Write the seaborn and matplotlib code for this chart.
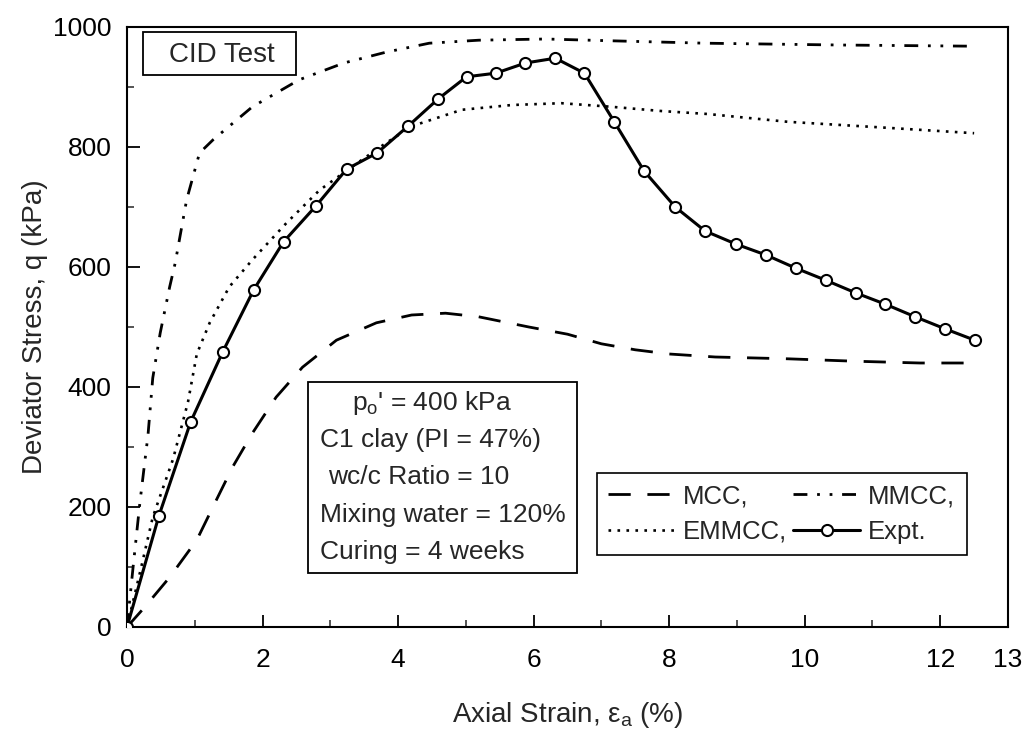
import matplotlib
matplotlib.use("Agg")
import matplotlib.pyplot as plt
import seaborn as sns
from matplotlib.patches import Rectangle
from matplotlib.ticker import MultipleLocator, FixedLocator

# Experimental results (open circles)
expt_strain = [0, 0.47, 0.94, 1.41, 1.87, 2.31, 2.79, 3.24, 3.69, 4.15, 4.59, 5.01,
               5.44, 5.88, 6.32, 6.75, 7.19, 7.63, 8.09, 8.53, 8.99, 9.43, 9.87,
               10.31, 10.75, 11.19, 11.63, 12.07, 12.51]
expt_q = [0, 185, 342, 458, 562, 642, 702, 763, 790, 835, 880, 917,
          923, 940, 948, 923, 842, 760, 700, 660, 638, 620, 598,
          578, 557, 538, 517, 497, 478]

# Modified Cam Clay
mcc_strain = [0, 0.26, 0.63, 1.03, 1.32, 1.56, 1.85, 2.2, 2.59, 3.09, 3.68, 4.2,
              4.7, 5.19, 5.93, 6.5, 7.0, 7.5, 8.0, 8.68, 9.75, 10.73, 11.7, 12.5]
mcc_q = [0, 33, 83, 145, 212, 267, 323, 383, 433, 478, 507, 520,
         523, 517, 500, 488, 472, 462, 455, 450, 447, 443, 440, 440]

# MMCC model
mmcc_strain = [0, 0.09, 0.19, 0.31, 0.38, 0.49, 0.63, 0.71, 0.88, 1.07, 1.27, 1.85,
               2.54, 3.2, 3.82, 4.46, 5.19, 6.18, 7.15, 8.53, 10.5, 12.5]
mmcc_q = [0, 100, 207, 320, 415, 490, 567, 606, 712, 790, 812, 867,
          912, 940, 958, 973, 978, 980, 977, 973, 970, 968]

# EMMCC model
emmcc_strain = [0, 0.2, 0.38, 0.68, 0.9, 1.03, 1.22, 1.51, 1.85, 2.35, 2.84, 3.32,
                3.8, 4.21, 4.94, 5.68, 6.41, 7.15, 7.88, 8.57, 9.75, 11.22, 12.5]
emmcc_q = [0, 95, 183, 280, 375, 455, 507, 567, 612, 673, 728, 767,
           805, 835, 862, 870, 873, 867, 860, 855, 842, 832, 823]

x_major = [0, 2, 4, 6, 8, 10, 12, 13]
y_major = [0, 200, 400, 600, 800, 1000]

info_lines = ["p$_\\mathregular{o}$' = 400 kPa",
              "C1 clay (PI = 47%)",
              "wc/c Ratio = 10",
              "Mixing water = 120%",
              "Curing = 4 weeks"]

sns.set_theme(style="ticks")
plt.rcParams["font.family"] = ["Liberation Sans", "DejaVu Sans"]
plt.rcParams["mathtext.fontset"] = "custom"
plt.rcParams["mathtext.rm"] = "Liberation Sans"
plt.rcParams["mathtext.it"] = "Liberation Sans:italic"

fig = plt.figure(figsize=(10.31, 7.32), dpi=100)
ax = fig.add_axes([127 / 1031, 1 - 627 / 732, 881 / 1031, 600 / 732])

sns.lineplot(x=mcc_strain, y=mcc_q, ax=ax, color="black", lw=2.0,
             linestyle=(0, (8, 6)), sort=False, estimator=None, label="MCC,")
sns.lineplot(x=mmcc_strain, y=mmcc_q, ax=ax, color="black", lw=2.0,
             linestyle=(0, (5, 3.5, 1, 3.5, 1, 3.5)), sort=False, estimator=None,
             label="MMCC,")
sns.lineplot(x=emmcc_strain, y=emmcc_q, ax=ax, color="black", lw=1.9,
             linestyle=(0, (1, 2.4)), sort=False, estimator=None, label="EMMCC,")
sns.lineplot(x=expt_strain, y=expt_q, ax=ax, color="black", lw=2.2,
             marker="o", markersize=8, markerfacecolor="white",
             markeredgecolor="black", markeredgewidth=1.5, sort=False,
             estimator=None, label="Expt.", zorder=5)

ax.set_xlim(0, 13)
ax.set_ylim(0, 1000)
ax.xaxis.set_major_locator(FixedLocator(x_major))
ax.yaxis.set_major_locator(FixedLocator(y_major))
ax.xaxis.set_minor_locator(FixedLocator([1, 3, 5, 7, 9, 11]))
ax.yaxis.set_minor_locator(MultipleLocator(100))
ax.set_xticklabels([str(v) for v in x_major])
ax.set_yticklabels([str(v) for v in y_major])

for side in ["left", "bottom", "right", "top"]:
    ax.spines[side].set_visible(True)
    ax.spines[side].set_linewidth(1.5)
    ax.spines[side].set_color("black")

ax.tick_params(axis="both", which="major", direction="in", length=9, width=1.3,
               labelsize=19, colors="black", top=False, right=False)
ax.tick_params(axis="both", which="minor", direction="in", length=5, width=1.1,
               top=False, right=False)
ax.tick_params(axis="x", which="major", pad=15)
ax.tick_params(axis="y", which="major", pad=11)

ax.set_xlabel("Axial Strain, \u03b5$_\\mathregular{a}$ (%)", fontsize=20, labelpad=20)
ax.set_ylabel("Deviator Stress, q (kPa)", fontsize=20, labelpad=4)

# Title box
ax.add_patch(Rectangle((0.0182, 0.92), 0.1736, 0.0717, transform=ax.transAxes,
                       fill=False, edgecolor="black", lw=1.3, zorder=6))
ax.text(0.108, 0.953, "CID Test", transform=ax.transAxes, fontsize=20,
        ha="center", va="center", zorder=7)

# Test condition box
ax.add_patch(Rectangle((0.2054, 0.09), 0.3056, 0.318, transform=ax.transAxes,
                       facecolor="white", edgecolor="black", lw=1.3, zorder=6))
line_x = [0.255, 0.219, 0.228, 0.219, 0.219]
line_y = [0.373, 0.312, 0.25, 0.187, 0.125]
for txt, x, y in zip(info_lines, line_x, line_y):
    ax.text(x, y, txt, transform=ax.transAxes, fontsize=19,
            ha="left", va="center", zorder=7)

handles, labels = ax.get_legend_handles_labels()
order = [labels.index(k) for k in ["MCC,", "EMMCC,", "MMCC,", "Expt."]]
leg = ax.legend([handles[i] for i in order], [labels[i] for i in order],
                ncol=2, loc="upper right", bbox_to_anchor=(0.953, 0.257),
                fontsize=18.5, frameon=True, fancybox=False, framealpha=1,
                edgecolor="black", handlelength=2.6, handletextpad=0.3,
                columnspacing=0.25, borderpad=0.45, labelspacing=0.45,
                borderaxespad=0)
leg.get_frame().set_linewidth(1.2)

fig.savefig("out.png", dpi=100)
